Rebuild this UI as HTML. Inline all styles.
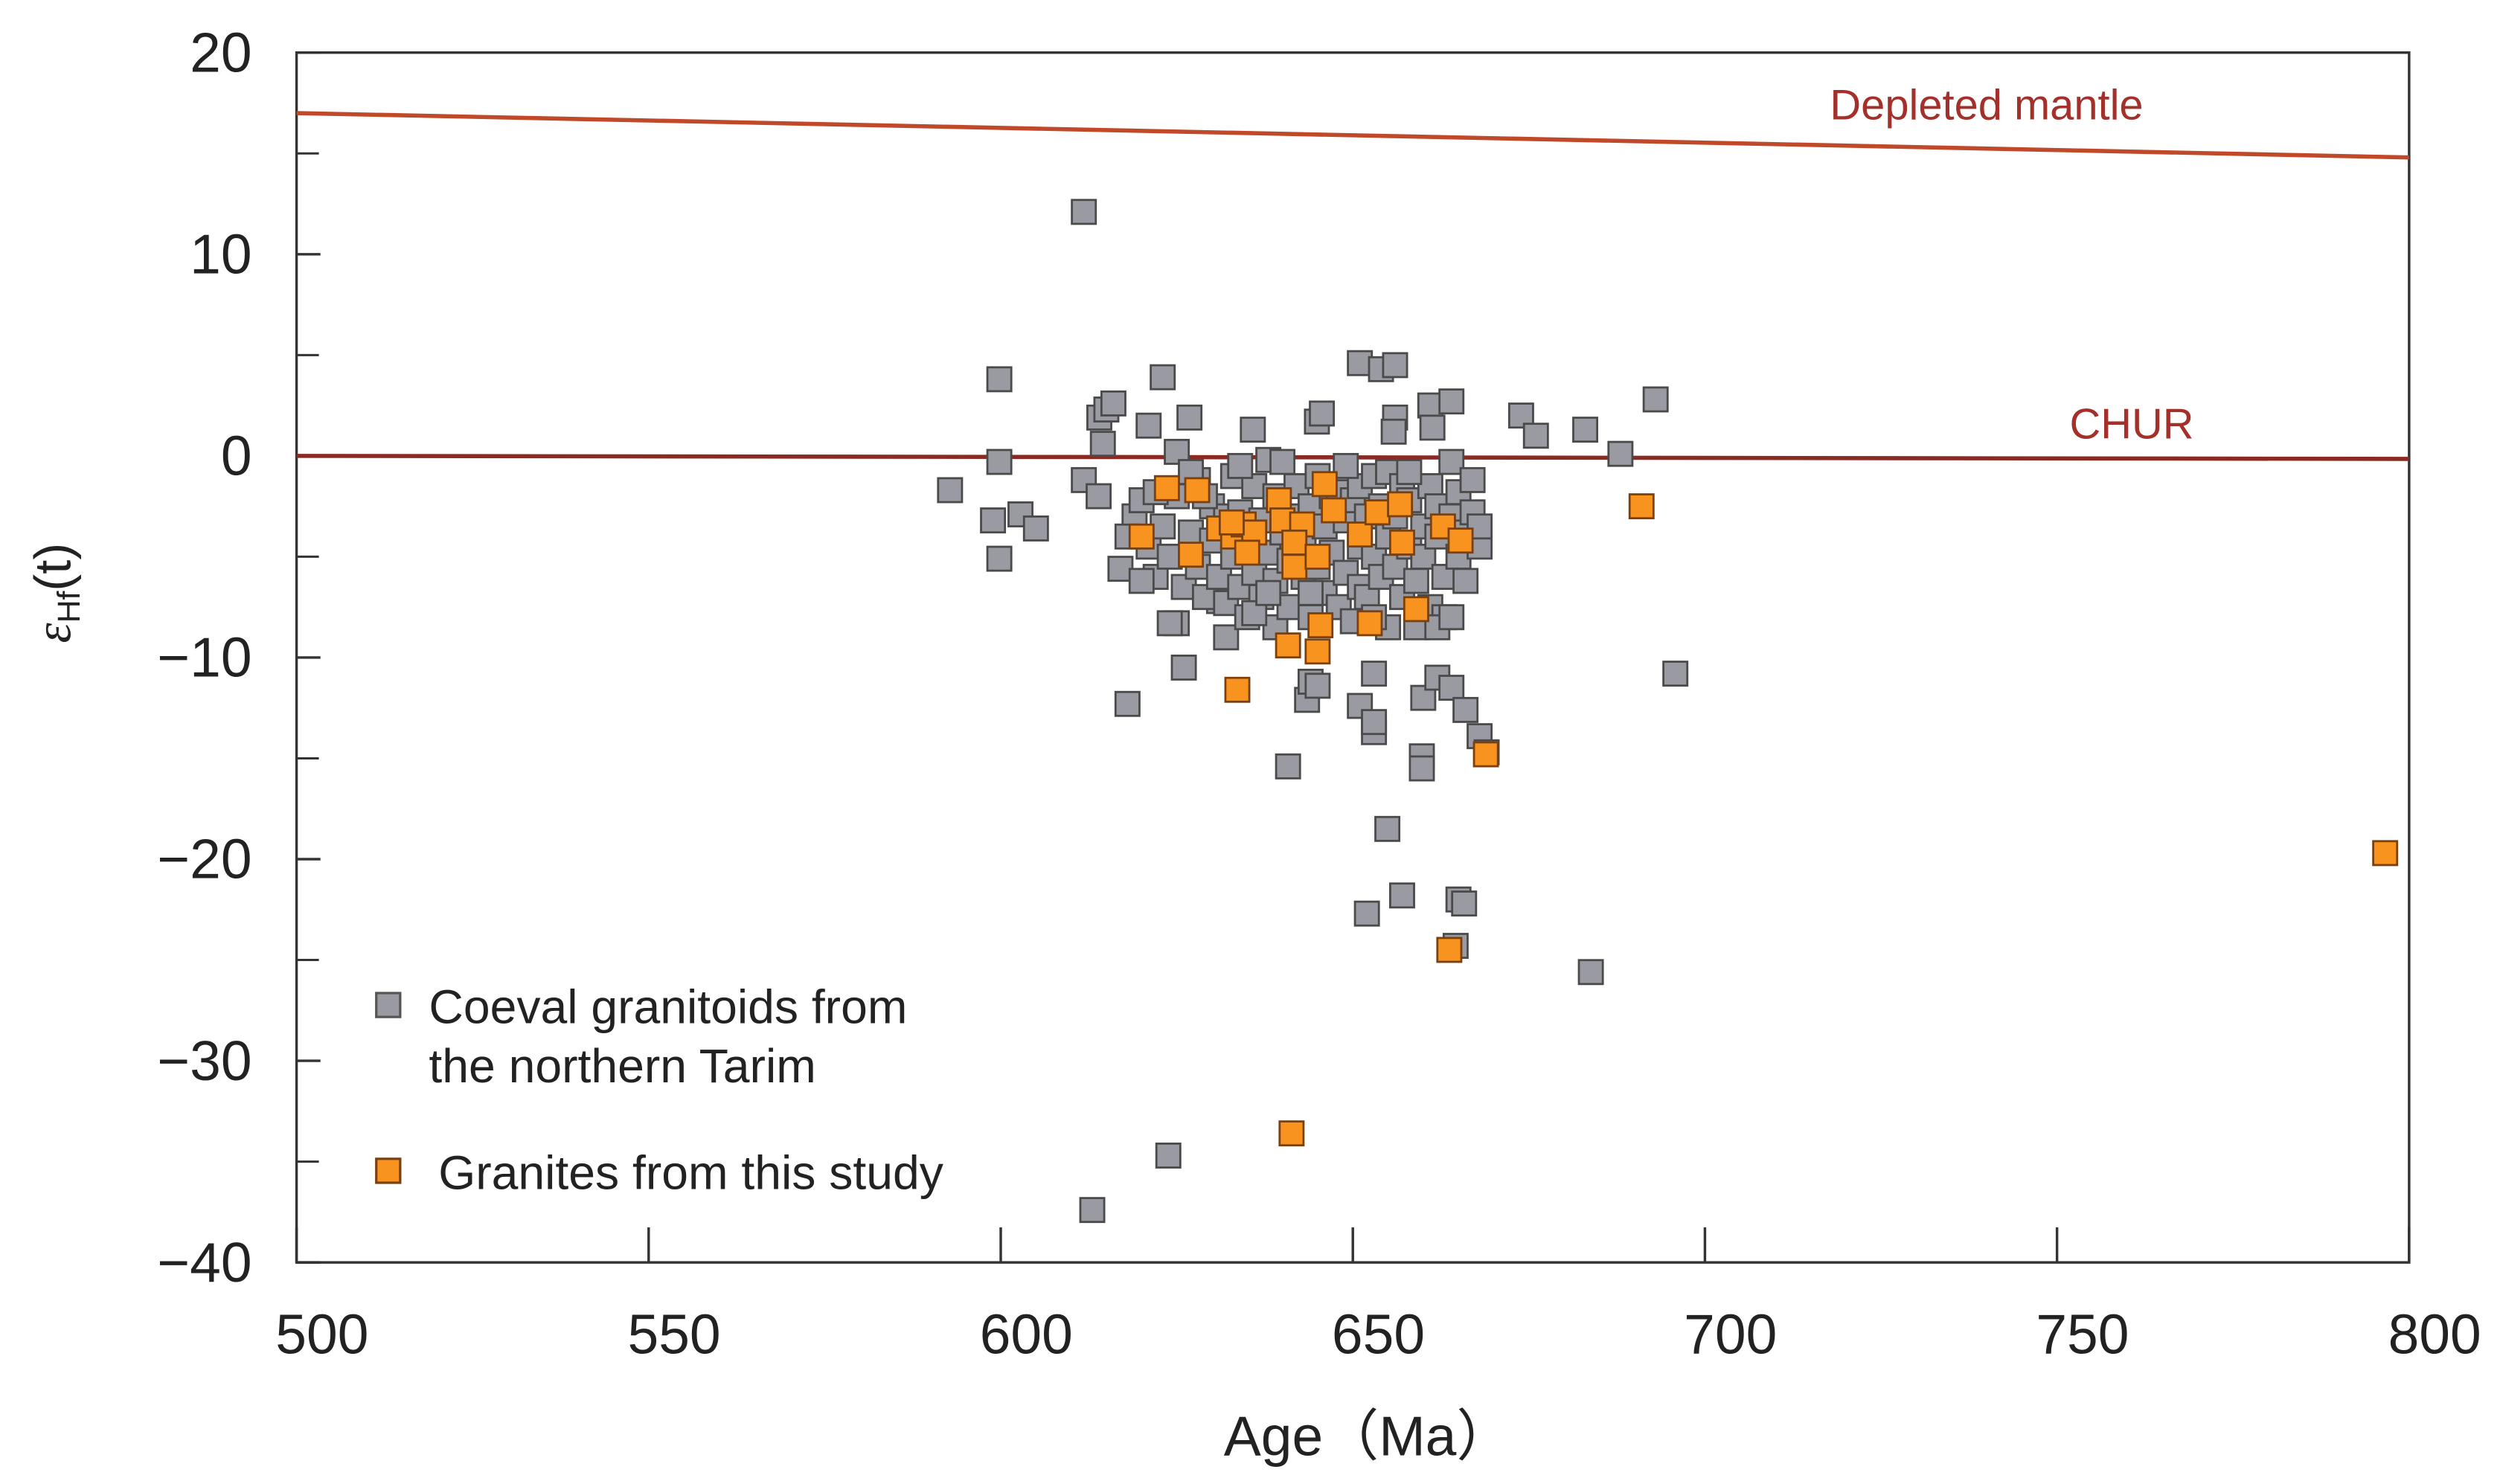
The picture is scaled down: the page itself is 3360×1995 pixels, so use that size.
<!DOCTYPE html>
<html><head><meta charset="utf-8"><style>
html,body{margin:0;padding:0;background:#fff;}
svg{display:block;font-family:"Liberation Sans",Arial,sans-serif;}
</style></head><body>
<svg id="chart" width="3360" height="1995" viewBox="0 0 1568 931" xmlns="http://www.w3.org/2000/svg">
<g id="axes"></g>
<g id="lines"></g>
<g id="gray"></g>
<g id="orange"></g>
<g id="legend">
<rect x="236" y="623" width="15" height="15" fill="#9a9aa2" stroke="#555" stroke-width="1.5"/>
<text x="269" y="642" font-size="30" fill="#222">Coeval granitoids from</text>
<text x="269" y="679" font-size="30" fill="#222">the northern Tarim</text>
<rect x="236" y="727" width="15" height="15" fill="#f7931e" stroke="#7a4010" stroke-width="1.5"/>
<text x="275" y="746" font-size="30" fill="#222">Granites from this study</text>
</g>
<text x="858" y="913" font-size="35" text-anchor="middle" fill="#222">Age（Ma）</text>
<text transform="translate(44,372) rotate(-90)" font-size="32" text-anchor="middle" fill="#222"><tspan font-family="Liberation Serif,serif" font-style="italic">ε</tspan><tspan font-size="20" dy="6">Hf</tspan><tspan dy="-6">(t)</tspan></text>
</svg>
<script>
const xTicks=[500,550,600,650,700,750,800];
const yTicks=[20,10,0,-10,-20,-30,-40];
const yMinor=[15,5,-5,-15,-25,-35];
const dmLine=[[500,17.0],[800,14.8]];
const churLine=[[500,0],[800,-0.15]];
const grayAge=[611.8,599.8,599.8,592.8,598.9,602.8,605,599.8,611.8,613.9,614,615,616,614.5,623,621,626.8,625,635.8,644.9,645.6,651,654,656,656,655.8,661,661.3,664,673.9,676,683,688,693,695.8,618,625,626,631,632,643.5,644,645,640.8,651,653,653,653,660,662,664,666,668,669,659.8,659.8,654.9,652,657,665,665.8,664.6,683.8,623.8,613,
617,619,620,621,622,623,624,624,625,626,627,628,628,629,630,630,631,632,632,633,633,634,634,635,635,636,636,637,637,638,638,639,639,639,640,640,641,641,642,642,643,643,644,644,645,645,646,646,647,647,648,648,649,649,650,650,651,651,651,652,652,653,653,654,654,655,655,655,656,656,657,657,658,658,659,659,660,660,661,661,662,662,663,663,664,664,665,665,666,666,667,667,668,668,618,620,622,627,629,634,636,638,644,649,653,658,662,664];
const grayEhf=[12.1,3.8,-0.3,-1.7,-3.2,-2.9,-3.6,-5.1,-1.2,-2.0,1.9,2.3,2.6,0.6,3.9,1.5,1.9,0.2,1.3,1.7,2.1,4.6,4.3,4.5,1.9,1.2,2.5,1.4,2.7,2.0,1.0,1.3,0.1,2.8,-10.8,-12.3,-8.3,-10.5,-7.2,-9.0,-12.1,-11.2,-11.4,-15.4,-12.4,-13.7,-13.2,-10.8,-12.0,-11.0,-11.5,-12.6,-13.9,-14.7,-14.9,-15.5,-18.5,-22.7,-21.8,-22.0,-22.2,-24.3,-25.6,-34.7,-37.4,
-5.6,-3.0,-2.2,-4.5,-6.0,-3.5,-5.0,-8.3,-2.0,-6.5,-3.8,-5.5,-1.2,-7.0,-4.2,-2.5,-6.0,-3.0,-7.3,-5.0,-1.0,-6.5,-2.8,-4.0,-8.0,-5.8,-1.5,-3.2,-7.0,-0.2,-4.8,-2.0,-6.2,-8.5,-3.8,-0.3,-5.2,-7.5,-1.5,-3.0,-6.0,-4.2,-2.5,-8.0,-5.5,-1.0,-3.5,-6.8,-2.0,-4.8,-7.5,-1.8,-3.2,-5.8,-2.2,-8.2,-4.5,-6.5,-1.5,-3.0,-7.0,-5.0,-1.0,-2.5,-6.0,-4.0,-8.5,-0.8,-5.5,-3.0,-7.0,-1.5,-4.5,-2.2,-6.2,-8.5,-3.5,-5.0,-1.5,-7.5,-4.0,-2.5,-6.0,-8.0,-0.3,-3.0,-5.0,-1.8,-3.8,-6.2,-1.2,-2.8,-4.5,-3.5,-4.0,-6.2,-1.8,-0.8,-2.0,-0.5,-7.8,-6.8,-6.8,-0.5,-8.0,-0.8,-8.5,-8.0];
const orangeAge=[668.9,691,796.6,663.7,641.3,633.6,640.8,645,645.4,652.4,659,620,623.6,627.9,627,631,633,634.5,636,639.5,640,646,647.3,642.8,641.7,641.7,645,651,653.5,656.7,657,662.8,665.3,635,632.8];
const orangeEhf=[-14.8,-2.5,-19.7,-24.5,-33.6,-11.6,-9.4,-9.7,-8.4,-8.3,-7.6,-4.0,-1.6,-1.7,-4.9,-3.6,-4.0,-3.4,-3.8,-2.2,-3.2,-1.4,-2.7,-3.4,-5.5,-4.3,-5.0,-3.9,-2.8,-2.4,-4.3,-3.5,-4.2,-4.8,-3.3];

const X0=186,X1=1511,Y0=33,Y1=792;
const xs=a=>X0+(a-500)/300*(X1-X0);
const ys=e=>Y0+(20-e)/60*(Y1-Y0);
const NS='http://www.w3.org/2000/svg';
function mk(tag,attrs,parent){const el=document.createElementNS(NS,tag);for(const k in attrs)el.setAttribute(k,attrs[k]);parent.appendChild(el);return el;}
const axes=document.getElementById('axes');
let f=mk('rect',{x:X0,y:Y0,width:X1-X0,height:Y1-Y0,fill:'none',stroke:'#333','stroke-width':1.6},axes);


xTicks.forEach(v=>{
 const t=mk('line',{x1:xs(v),x2:xs(v),y1:Y1,y2:Y1-22,stroke:'#333','stroke-width':1.6},axes);
 
 
 const l=mk('text',{x:xs(v)+16,y:Y1+57,'font-size':35,'text-anchor':'middle',fill:'#222'},axes);
 l.textContent=v;
 
 
});
yTicks.forEach(v=>{
 const t=mk('line',{x1:X0,x2:X0+15,y1:ys(v),y2:ys(v),stroke:'#333','stroke-width':1.6},axes);
 
 
 const l=mk('text',{x:158,y:ys(v)+12,'font-size':35,'text-anchor':'end',fill:'#222'},axes);
 l.textContent=v<0?'\u2212'+(-v):v;
 
 
});
yMinor.forEach(v=>{
 const t=mk('line',{x1:X0,x2:X0+14,y1:ys(v),y2:ys(v),stroke:'#333','stroke-width':1.4},axes);
 
 
});
const lines=document.getElementById('lines');
let dm=mk('line',{x1:xs(dmLine[0][0]),y1:ys(dmLine[0][1]),x2:xs(dmLine[1][0]),y2:ys(dmLine[1][1]),stroke:'#c0492a','stroke-width':2.6},lines);


let ch=mk('line',{x1:xs(churLine[0][0]),y1:ys(churLine[0][1]),x2:xs(churLine[1][0]),y2:ys(churLine[1][1]),stroke:'#8b2a22','stroke-width':2.6},lines);


let t1=mk('text',{x:1246,y:75,'font-size':27,'text-anchor':'middle',fill:'#a3302a'},lines);
t1.textContent='Depleted mantle';


let t2=mk('text',{x:1337,y:275,'font-size':27,'text-anchor':'middle',fill:'#a3302a'},lines);
t2.textContent='CHUR';


const S=15;
const g=document.getElementById('gray');
grayAge.forEach((a,i)=>{
 const r=mk('rect',{x:xs(a)-S/2,y:ys(grayEhf[i])-S/2,width:S,height:S,fill:'#9a9aa2',stroke:'#4a4a4a','stroke-width':1.3},g);
 
 
});
const o=document.getElementById('orange');
orangeAge.forEach((a,i)=>{
 const r=mk('rect',{x:xs(a)-S/2,y:ys(orangeEhf[i])-S/2,width:S,height:S,fill:'#f7931e',stroke:'#7a4010','stroke-width':1.3},o);
 
 
});
</script>
</body></html>
